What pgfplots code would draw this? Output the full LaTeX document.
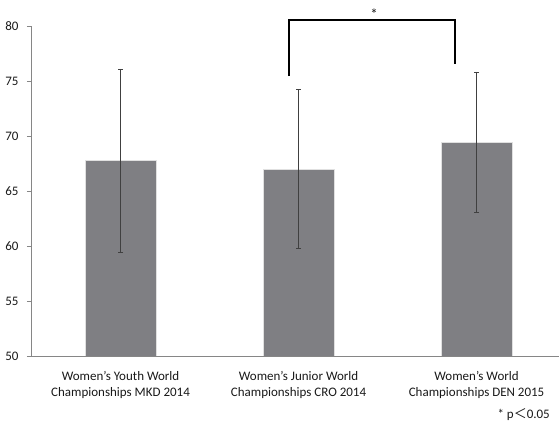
\documentclass[border=0pt]{standalone}
\usepackage{pgfplots}
\pgfplotsset{compat=1.18}
\usepackage{fontspec}
\setmainfont{Carlito}[Ligatures=ResetAll]
\newfontfamily\cjk{Noto Sans CJK JP}
\definecolor{barfill}{RGB}{127,127,131}
\definecolor{axisgray}{RGB}{134,134,134}
\definecolor{txt}{RGB}{25,25,25}
\begin{document}
\begin{tikzpicture}
\path[use as bounding box] (-31bp,-69bp) rectangle (528bp,356bp);
\begin{axis}[
  scale only axis, width=528bp, height=330bp,
  at={(0,0)}, anchor=south west,
  xmin=-0.503, xmax=2.463, ymin=50, ymax=80,
  ytick={50,55,...,80},
  xtick={0,1,2},
  xticklabels={{Women's Youth World\\Championships MKD 2014},{Women's Junior World\\Championships CRO 2014},{Women's World\\Championships DEN 2015}},
  axis x line*=bottom, axis y line*=left,
  axis line style={draw=axisgray, line width=0.8pt},
  tick align=outside, major tick length=4bp,
  ytick style={draw=axisgray, line width=0.8pt},
  xtick style={draw=none},
  /pgf/number format/assume math mode=true,
  yticklabel style={font=\fontsize{13bp}{15bp}\selectfont, text=txt, xshift=-5bp},
  xticklabel style={font=\fontsize{13bp}{16bp}\selectfont, text=txt, align=center, yshift=-8bp},
]
\addplot[ybar, bar width=71bp, fill=barfill, draw=black!12, line width=0.8pt,
  error bars/.cd, y dir=both, y explicit,
  error bar style={line width=0.7pt, color=black!75},
  error mark options={rotate=90, line width=0.7pt, color=black!75, mark size=2.5bp}]
  coordinates {(0,67.75) +- (0,8.35) (1,67.0) +- (0,7.2) (2,69.42) +- (0,6.4)};
\coordinate (bl) at (axis cs:0.947,75.45);
\coordinate (tl) at (axis cs:0.947,80.55);
\coordinate (tr) at (axis cs:1.879,80.55);
\coordinate (br) at (axis cs:1.879,76.55);
\coordinate (st) at (axis cs:1.424,81.05);
\end{axis}
\draw[line width=2.4bp, black, line join=miter] (bl) -- (tl) -- (tr) -- (br);
\node[font=\fontsize{15bp}{16bp}\selectfont, text=txt] at (st) {*};
\node[anchor=east, font=\fontsize{13bp}{15bp}\selectfont, text=txt, inner sep=0pt] at (519bp,-59bp) {* p{\cjk ＜}0.05};
\end{tikzpicture}
\end{document}
